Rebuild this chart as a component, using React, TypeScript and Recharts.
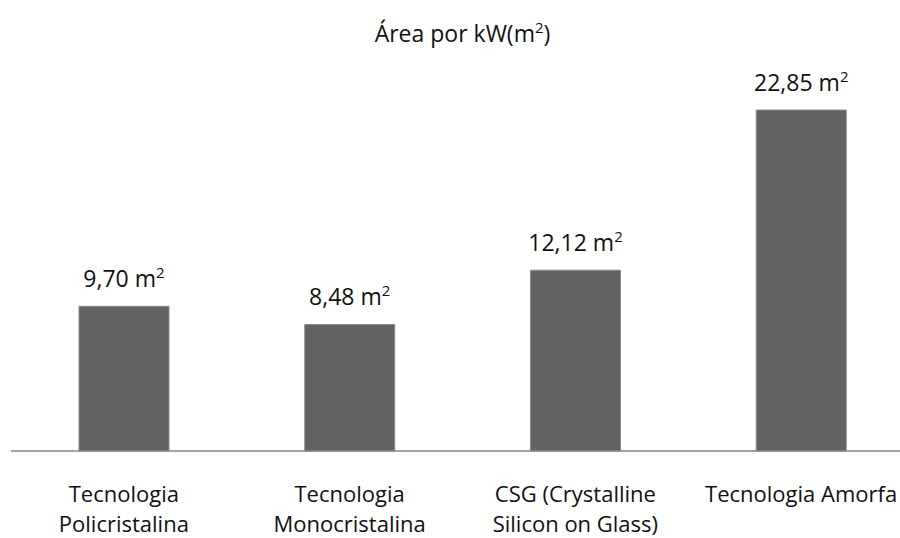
import { Bar, BarChart, LabelList, XAxis, YAxis } from 'recharts';

const categories = [
  'Tecnologia\nPolicristalina',
  'Tecnologia\nMonocristalina',
  'CSG (Crystalline\nSilicon on Glass)',
  'Tecnologia Amorfa',
];
const areaValues = [9.7, 8.48, 12.12, 22.85];
const yDomain = [0, 25];

const FONT = '"Open Sans", sans-serif';
const TEXT_COLOR = '#111';

const data = categories.map((name, i) => ({ name, area: areaValues[i] }));

const fmt = (v: number) => v.toFixed(2).replace('.', ',');

const CategoryTick = ({ x, y, payload }: { x?: number; y?: number; payload?: { value: string } }) => {
  const lines = (payload?.value ?? '').split('\n');
  return (
    <text x={x} y={y} textAnchor="middle" fontFamily={FONT} fontSize={22} fill={TEXT_COLOR}>
      {lines.map((line, i) => (
        <tspan key={i} x={x} dy={i === 0 ? 51 : 30}>
          {line}
        </tspan>
      ))}
    </text>
  );
};

const ValueLabel = (props: any) => {
  const { x, y, width, value } = props;
  return (
    <text
      x={Number(x) + Number(width) / 2}
      y={Number(y) - 19}
      textAnchor="middle"
      fontFamily={FONT}
      fontSize={23}
      fill={TEXT_COLOR}
    >
      {`${fmt(Number(value))} m`}
      <tspan dy={-9} fontSize={15}>2</tspan>
    </text>
  );
};

export default function App() {
  return (
    <div style={{ position: 'absolute', left: 0, top: 0, width: 900, height: 538, overflow: 'hidden', background: '#fff' }}>
      <svg width={925} height={60} style={{ position: 'absolute', left: 0, top: 0 }}>
        <text x={462.5} y={42} textAnchor="middle" fontFamily={FONT} fontSize={23} fill={TEXT_COLOR}>
          Área por kW(m
          <tspan dy={-9} fontSize={15}>2</tspan>
          <tspan dy={9}>)</tspan>
        </text>
      </svg>
      <div style={{ position: 'absolute', left: 0, top: 0 }}>
        <BarChart
          width={914}
          height={538}
          data={data}
          margin={{ top: 78, right: 0, left: 11, bottom: 0 }}
          barSize={90}
        >
          <XAxis
            dataKey="name"
            height={87}
            interval={0}
            tickLine={false}
            tickSize={0}
            tickMargin={0}
            axisLine={{ stroke: '#868686', strokeWidth: 1.5 }}
            tick={<CategoryTick />}
          />
          <YAxis hide domain={yDomain} />
          <Bar dataKey="area" fill="#626262" stroke="#8a8a8a" strokeWidth={1} isAnimationActive={false}>
            <LabelList dataKey="area" content={<ValueLabel />} />
          </Bar>
        </BarChart>
      </div>
    </div>
  );
}
